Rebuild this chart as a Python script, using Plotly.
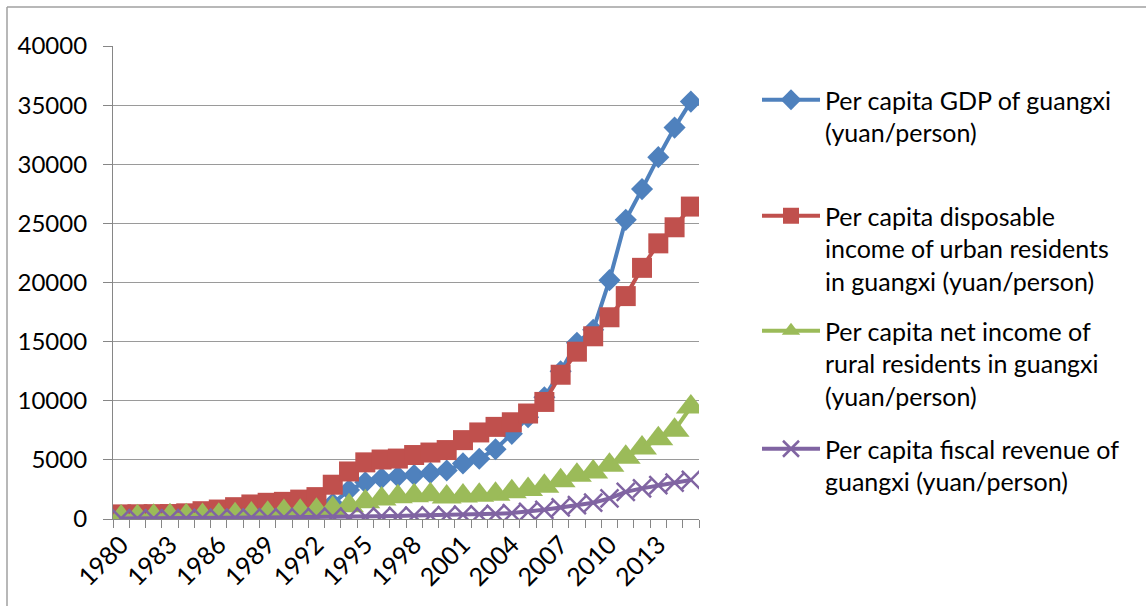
import plotly.graph_objects as go

years = [1980, 1981, 1982, 1983, 1984, 1985, 1986, 1987, 1988, 1989,
         1990, 1991, 1992, 1993, 1994, 1995, 1996, 1997, 1998, 1999,
         2000, 2001, 2002, 2003, 2004, 2005, 2006, 2007, 2008, 2009,
         2010, 2011, 2012, 2013, 2014, 2015]

gdp = [280, 300, 330, 340, 370, 450, 500, 570, 730, 870,
       1070, 1240, 1500, 1300, 2450, 3100, 3440, 3600, 3720, 3900,
       4100, 4700, 5100, 5900, 7200, 8600, 10300, 12500, 14900, 16000,
       20200, 25300, 27900, 30600, 33100, 35300]

urban = [390, 400, 410, 420, 480, 660, 800, 1000, 1230, 1370,
         1450, 1640, 1850, 2900, 4020, 4790, 5030, 5110, 5410, 5620,
         5830, 6670, 7320, 7790, 8180, 8920, 9900, 12200, 14150, 15450,
         17060, 18850, 21240, 23310, 24670, 26420]

rural = [170, 200, 230, 265, 275, 300, 320, 360, 425, 480,
         640, 660, 730, 890, 1110, 1450, 1700, 1875, 1970, 2050,
         1865, 1945, 2010, 2095, 2305, 2495, 2770, 3225, 3690, 3980,
         4540, 5230, 6010, 6790, 7500, 9470]

fiscal = [50, 50, 55, 60, 65, 85, 95, 100, 120, 130,
          140, 150, 170, 200, 160, 200, 230, 260, 290, 310,
          330, 370, 400, 440, 500, 600, 780, 980, 1170, 1380,
          1740, 2300, 2590, 2870, 3070, 3300]

names = [
    "Per capita GDP of guangxi<br>(yuan/person)",
    "Per capita disposable<br>income of urban residents<br>in guangxi (yuan/person)",
    "Per capita net income of<br>rural residents in guangxi<br>(yuan/person)",
    "Per capita fiscal revenue of<br>guangxi (yuan/person)",
]

tick_years = [1980, 1983, 1986, 1989, 1992, 1995, 1998, 2001, 2004, 2007, 2010, 2013]
tick_text = [str(y) for y in tick_years]

y_ticks = [0, 5000, 10000, 15000, 20000, 25000, 30000, 35000, 40000]
y_text = ["0", "5000", "10000", "15000", "20000", "25000", "30000", "35000", "40000"]

W, H = 1146, 606
L, R, T, B = 113, 447, 46, 87
PW, PH = W - L - R, H - T - B


def px_x(px):
    return (px - L) / PW


def px_y(py):
    return (H - B - py) / PH


FONT = "Lato"
BLUE, RED, GREEN, PURPLE = "#4F81BD", "#C0504D", "#9BBB59", "#8064A2"

fig = go.Figure()

series = [
    (gdp, BLUE, "diamond", 17, None),
    (urban, RED, "square", 20, None),
    (rural, GREEN, "triangle-up", 26, None),
    (fiscal, PURPLE, "x-thin", 18, 2.5),
]

legend_tops = [77, 193, 308, 426]

for i, (vals, col, sym, size, lw) in enumerate(series):
    marker = dict(symbol=sym, size=size, color=col)
    if lw:
        marker["line"] = dict(width=lw, color=col)
    else:
        marker["line"] = dict(width=0)
    fig.add_trace(go.Scatter(
        x=years, y=vals, mode="lines+markers", name=names[i],
        line=dict(color=col, width=4),
        marker=marker,
        legend="legend" if i == 0 else f"legend{i + 1}",
    ))

legend_common = dict(
    x=px_x(757), xanchor="left", yanchor="top",
    font=dict(family=FONT, size=25, color="#000000"),
    bgcolor="rgba(0,0,0,0)", itemwidth=58, valign="top",
    tracegroupgap=0,
)
layout_legends = {}
for i, top in enumerate(legend_tops):
    key = "legend" if i == 0 else f"legend{i + 1}"
    layout_legends[key] = dict(legend_common, y=px_y(top))

fig.update_layout(
    width=W, height=H,
    margin=dict(l=L, r=R, t=T, b=B, pad=0),
    paper_bgcolor="white", plot_bgcolor="white",
    showlegend=True,
    font=dict(family=FONT, size=24, color="#000000"),
    xaxis=dict(
        range=[1979.5, 2015.5],
        tickmode="array", tickvals=tick_years, ticktext=tick_text,
        tickangle=-45, ticks="", showgrid=False, zeroline=False,
        showline=True, linecolor="#868686", linewidth=1.2,
        tickfont=dict(family=FONT, size=25),
        minor=dict(ticks="outside", tick0=1979.5, dtick=1, ticklen=8,
                   tickcolor="#868686", tickwidth=1.2, showgrid=False),
    ),
    yaxis=dict(
        range=[0, 40000], tickmode="array", tickvals=y_ticks, ticktext=y_text,
        ticks="outside", ticklen=9, tickcolor="#868686", tickwidth=1.2,
        showline=True, linecolor="#868686", linewidth=1.2,
        showgrid=True, gridcolor="#9a9a9a", gridwidth=1.2,
        zeroline=False, ticklabelstandoff=11,
        tickfont=dict(family=FONT, size=24),
    ),
    shapes=[
        dict(type="line", xref="paper", yref="paper",
             x0=px_x(7), x1=px_x(W + 5), y0=px_y(7), y1=px_y(7),
             line=dict(color="#a0a0a0", width=1.5)),
        dict(type="line", xref="paper", yref="paper",
             x0=px_x(7), x1=px_x(7), y0=px_y(7), y1=px_y(H + 5),
             line=dict(color="#a0a0a0", width=1.5)),
    ],
    **layout_legends,
)

fig.write_html("out.html")
